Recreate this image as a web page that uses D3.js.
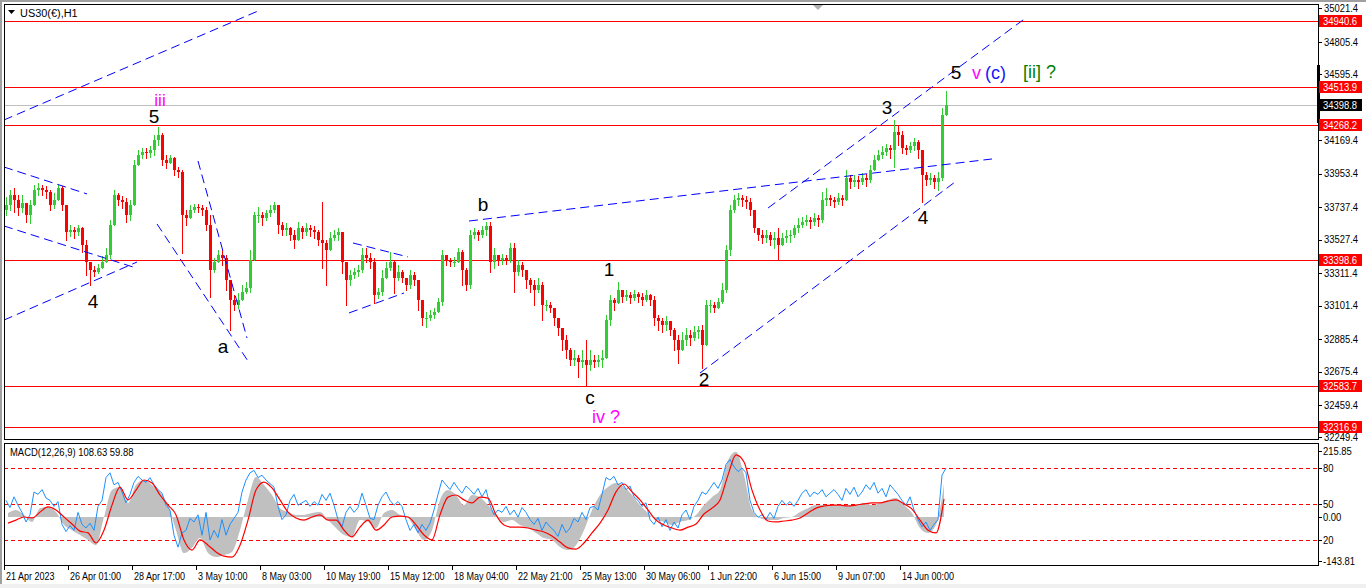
<!DOCTYPE html>
<html>
<head>
<meta charset="utf-8">
<script src="https://cdn.jsdelivr.net/npm/d3@7"></script>
<style>
  html, body { margin: 0; padding: 0; background: #fff; overflow: hidden; }
  svg { display: block; font-family: "Liberation Sans", Arial, sans-serif; }
</style>
</head>
<body>
<svg id="chart" width="1366" height="588"></svg>
<script>
// US30(€) H1, grouped into 4-hour bars (open = previous close)
const firstOpen = 33720;

const closes = [
  33752,33816,33784,33733,33765,33687,33752,33849,33862,33849,
  33836,33752,33784,33862,33752,33577,33590,33577,33603,33493,
  33383,33332,33319,33344,33383,33428,33622,33816,33784,33771,
  33687,33752,34010,34075,34094,34088,34107,34172,34204,34042,
  34023,34055,33978,33965,33687,33668,33719,33739,33733,33719,
  33622,33332,33383,33428,33409,33267,33138,33105,33138,33189,
  33215,33396,33687,33687,33668,33700,33719,33752,33622,33590,
  33603,33558,33525,33603,33577,33603,33590,33577,33525,33506,
  33461,33538,33558,33577,33383,33267,33299,33319,33332,33428,
  33409,33383,33170,33189,33280,33344,33383,33280,33319,33280,
  33235,33299,33267,33138,33021,33021,33041,33060,33125,33428,
  33396,33383,33383,33448,33332,33235,33558,33577,33558,33590,
  33616,33383,33428,33396,33409,33396,33474,33319,33364,33332,
  33267,33235,33202,33235,33105,33105,33086,33021,32957,32879,
  32815,32750,32763,32737,32750,32718,32750,32737,32750,32763,
  33009,33138,33118,33202,33157,33170,33151,33176,33157,33138,
  33170,33138,33021,33002,32976,33002,32944,32879,32815,32879,
  32912,32892,32931,32944,32847,33105,33105,33086,33125,33202,
  33461,33719,33784,33797,33784,33771,33719,33603,33558,33538,
  33558,33525,33538,33493,33538,33551,33558,33603,33622,33642,
  33655,33642,33668,33655,33784,33797,33784,33771,33797,33784,
  33926,33900,33913,33900,33926,33913,33978,34042,34075,34094,
  34120,34107,34223,34204,34120,34107,34133,34159,34107,33946,
  33913,33926,33900,33926,34333,34399
];

const highs = [
  33803,33849,33862,33816,33816,33765,33784,33881,33894,33881,
  33874,33849,33829,33881,33874,33752,33622,33609,33622,33609,
  33525,33383,33357,33370,33422,33474,33655,33849,33829,33810,
  33797,33784,34042,34107,34120,34120,34133,34204,34256,34217,
  34075,34075,34062,33997,33978,33719,33752,33758,33758,33752,
  33739,33687,33409,33461,33461,33428,33235,33170,33183,33235,
  33254,33461,33706,33739,33706,33719,33752,33771,33752,33642,
  33636,33609,33590,33642,33616,33636,33622,33616,33590,33771,
  33525,33577,33590,33603,33571,33364,33332,33344,33364,33474,
  33474,33441,33409,33215,33332,33383,33448,33396,33364,33332,
  33280,33332,33319,33267,33105,33060,33073,33086,33151,33461,
  33428,33409,33415,33474,33461,33344,33590,33603,33590,33616,
  33642,33642,33474,33428,33435,33428,33506,33506,33396,33383,
  33332,33280,33267,33280,33254,33138,33125,33073,33021,32957,
  32912,32828,32815,32782,32815,32879,32815,32782,32782,32815,
  33041,33170,33151,33254,33202,33202,33189,33202,33189,33183,
  33202,33176,33163,33041,33021,33034,33002,32957,32912,32931,
  32957,32944,32970,32970,32976,33138,33138,33125,33151,33248,
  33493,33752,33816,33829,33816,33810,33797,33719,33603,33590,
  33590,33577,33577,33603,33571,33590,33590,33622,33668,33674,
  33687,33674,33700,33687,33836,33862,33816,33803,33829,33816,
  33978,33946,33946,33939,33958,33952,34010,34075,34107,34133,
  34146,34139,34301,34269,34230,34139,34159,34185,34172,34075,
  33965,33958,33946,33965,34378,34490
];

const lows = [
  33687,33719,33706,33687,33706,33642,33636,33752,33816,33816,
  33797,33719,33733,33784,33719,33525,33551,33538,33558,33448,
  33299,33235,33293,33312,33344,33383,33409,33622,33752,33733,
  33642,33655,33752,34010,34055,34055,34062,34075,34139,34010,
  33991,34023,33946,33933,33441,33622,33681,33706,33706,33687,
  33590,33157,33319,33383,33364,33202,32944,33073,33086,33151,
  33183,33189,33493,33642,33622,33655,33681,33706,33571,33558,
  33558,33525,33474,33525,33538,33558,33551,33538,33493,33344,
  33235,33474,33525,33525,33312,33105,33235,33280,33293,33319,
  33383,33344,33118,33151,33170,33299,33332,33183,33267,33254,
  33202,33215,33235,33073,32976,32963,33009,33021,33060,33105,
  33364,33357,33357,33383,33235,33202,33215,33538,33525,33545,
  33558,33319,33344,33364,33370,33370,33383,33189,33299,33293,
  33215,33189,33105,33189,33009,33073,33060,32976,32912,32815,
  32763,32718,32718,32640,32705,32589,32685,32705,32711,32705,
  32782,32976,33073,33138,33125,33138,33118,33138,33125,33105,
  33131,33105,32976,32944,32931,32944,32912,32815,32731,32828,
  32847,32847,32879,32892,32698,32879,33060,33060,33086,33118,
  33189,33428,33706,33752,33745,33733,33687,33577,33525,33506,
  33513,33493,33474,33396,33493,33513,33513,33545,33577,33609,
  33622,33603,33622,33616,33642,33752,33752,33739,33758,33752,
  33784,33862,33874,33862,33888,33874,33900,33991,34042,34055,
  34075,34055,33997,34139,34088,34081,34094,34107,34055,33771,
  33881,33888,33862,33849,33913,34366
];

// MACD(12,26,9), one value per two bars
const macdMain = [
  13,23,7,-16,29,33,16,-26,-43,-59,
  -75,-92,0,88,98,46,105,121,105,82,
  39,-43,-118,-101,-69,-118,-131,-124,-114,-43,
  56,131,105,72,29,16,7,7,13,16,
  -10,-36,-59,-65,-10,-16,-36,13,23,7,
  -3,-43,-75,-43,56,88,72,39,72,65,
  39,7,-16,-10,-26,-36,-52,-69,-75,-98,
  -108,-92,-43,23,72,98,111,98,72,39,
  13,-10,-16,-26,-16,-10,7,39,65,88,
  186,213,137,23,-3,-10,-10,-3,0,16,
  29,39,39,39,36,39,39,46,39,46,
  56,62,39,13,-36,-52,-26,108
];

const macdSignal = [
  -20,-10,0,-3,16,33,23,0,-23,-46,
  -52,-85,-43,39,98,56,88,121,111,72,
  39,7,-75,-108,-75,-92,-114,-128,-131,-92,
  -10,88,114,95,56,16,-3,-10,0,7,
  -10,-10,-43,-65,-33,-10,-43,-26,0,3,
  0,-26,-59,-75,7,65,72,56,46,65,
  62,7,-26,-33,-33,-36,-43,-49,-62,-82,
  -101,-105,-85,-52,-20,23,82,108,82,56,
  23,-10,-26,-36,-43,-33,-23,10,29,56,
  137,203,180,88,23,-13,-16,-13,-10,-3,
  13,29,36,39,39,36,39,43,46,46,
  52,56,43,26,-10,-43,-52,59
];

// oscillator drawn on the 0..100 levels, one value per bar
const oscLine = [
  53,47,56,49,43,35,41,60,58,62,
  55,53,48,52,33,27,32,28,43,33,
  30,34,28,48,53,72,76,66,68,60,
  51,58,68,73,70,68,72,66,62,59,
  49,45,24,14,26,28,38,35,41,24,
  43,20,28,22,37,24,33,38,43,60,
  70,76,78,72,74,70,67,64,48,37,
  41,53,58,49,51,53,48,52,49,58,
  53,59,49,37,31,43,48,43,47,59,
  49,38,37,49,56,60,53,49,52,48,
  37,28,33,26,33,28,34,45,58,70,
  66,62,68,63,59,65,62,58,63,56,
  62,49,41,45,43,48,41,45,39,47,
  43,37,33,38,28,35,31,28,23,33,
  26,30,38,35,43,37,47,48,45,58,
  72,70,73,66,68,62,65,56,53,48,
  51,37,33,39,31,37,28,35,30,41,
  45,37,48,53,60,58,63,68,63,70,
  83,87,81,77,80,76,53,43,39,41,
  37,43,38,48,53,49,52,48,53,59,
  62,56,60,58,62,56,59,62,58,53,
  63,58,64,56,60,66,62,68,59,63,
  56,66,62,58,53,49,56,45,37,31,
  35,28,33,37,74,80
];

const priceTicks = [35021.4, 34805.4, 34595.4, 34169.4, 33953.4, 33737.4, 33527.4,
  33311.4, 33101.4, 32885.4, 32675.4, 32459.4, 32249.4];
const levelLines = [34940.6, 34513.9, 34268.2, 33398.6, 32583.7, 32316.9];
const currentPrice = 34398.8;

const macdTicks = [215.85, 0, -143.81];
const oscLevels = [80, 50, 20];

const timeLabels = ['21 Apr 2023', '26 Apr 01:00', '28 Apr 17:00', '3 May 10:00', '8 May 03:00',
  '10 May 19:00', '15 May 12:00', '18 May 04:00', '22 May 21:00', '25 May 13:00',
  '30 May 06:00', '1 Jun 22:00', '6 Jun 15:00', '9 Jun 07:00', '14 Jun 00:00'];
const barsPerLabel = 16;

// [bar, price, bar, price]
const trendLines = [
  [0, 34301, 63.5, 35005],
  [0, 33997, 20.75, 33823],
  [0, 33616, 32.25, 33351],
  [0, 33008, 33.25, 33383],
  [38.25, 33629, 61, 32743],
  [48.5, 34036, 60.75, 32892],
  [87.25, 33506, 101, 33416],
  [86.25, 33054, 100, 33183],
  [116.25, 33648, 247, 34049],
  [191, 33732, 255.75, 34966],
  [174, 32666, 237.75, 33900]
];

// [text, bar, price, kind]
const waveLabels = [
  ['iii', 39, 34392, 'minor'],
  ['5', 37.5, 34280, 'wave'],
  ['4', 22.25, 33086, 'wave'],
  ['a', 54.75, 32795, 'wave'],
  ['b', 119.75, 33713, 'wave'],
  ['1', 151.25, 33293, 'wave'],
  ['c', 146.5, 32466, 'wave'],
  ['iv ?', 147, 32343, 'minorStart'],
  ['2', 175, 32582, 'wave'],
  ['3', 220.75, 34340, 'wave'],
  ['4', 229.75, 33629, 'wave'],
  ['5', 238, 34566, 'wave'],
  ['v', 242, 34566, 'minorStart'],
  ['(c)', 245.25, 34566, 'blueStart'],
  ['[ii] ?', 254.75, 34572, 'greenStart']
];

const layout = { left: 4, right: 1318, mainTop: 4, mainBottom: 439, macdTop: 443, macdBottom: 565 };

const labelStyles = {
  wave: { fill: '#000', size: 19, anchor: 'middle' },
  minor: { fill: '#ff00ff', size: 17, anchor: 'middle' },
  minorStart: { fill: '#ff00ff', size: 18, anchor: 'start' },
  blueStart: { fill: '#1414ff', size: 18, anchor: 'start' },
  greenStart: { fill: '#008000', size: 18, anchor: 'start' }
};

const svg = d3.select('#chart');

const x = d3.scaleLinear().domain([0, 328.5]).range([layout.left, layout.right]);
const y = d3.scaleLinear().domain([32316.9, 34940.6]).range([427, 21]);
const yMacd = d3.scaleLinear().domain([-143.81, 215.85]).range([561, 451]);
const yOsc = d3.scaleLinear().domain([0, 100]).range([564, 444]);

// narrow, Tahoma-like axis text
function axisText(sel, px, py) {
  return sel.attr('transform', d => `translate(${px(d)},${py(d)}) scale(0.9,1)`)
    .attr('font-size', 10.5).attr('fill', '#000');
}

function drawFrame() {
  svg.append('rect').attr('x', 0).attr('y', 0).attr('width', 1366).attr('height', 588).attr('fill', '#fff');
  svg.append('rect').attr('x', 0).attr('y', 0).attr('width', 1366).attr('height', 2).attr('fill', '#a0a0a0');
  svg.append('rect').attr('x', 0).attr('y', 0).attr('width', 2).attr('height', 588).attr('fill', '#a0a0a0');
  svg.append('rect').attr('x', 0).attr('y', 584).attr('width', 1366).attr('height', 4).attr('fill', '#f0f0f0');

  const defs = svg.append('defs');
  defs.append('clipPath').attr('id', 'clipMain').append('rect')
    .attr('x', layout.left).attr('y', layout.mainTop)
    .attr('width', layout.right - layout.left).attr('height', layout.mainBottom - layout.mainTop);
  defs.append('clipPath').attr('id', 'clipMacd').append('rect')
    .attr('x', layout.left).attr('y', layout.macdTop)
    .attr('width', layout.right - layout.left).attr('height', layout.macdBottom - layout.macdTop);
}

function drawMain() {
  const g = svg.append('g').attr('clip-path', 'url(#clipMain)');

  // horizontal levels
  g.selectAll('line.level').data(levelLines).join('line')
    .attr('x1', layout.left).attr('x2', layout.right)
    .attr('y1', d => Math.round(y(d)) + 0.5).attr('y2', d => Math.round(y(d)) + 0.5)
    .attr('stroke', '#ff0000').attr('stroke-width', 1);

  g.append('line')
    .attr('x1', layout.left).attr('x2', layout.right)
    .attr('y1', Math.round(y(currentPrice)) + 0.5).attr('y2', Math.round(y(currentPrice)) + 0.5)
    .attr('stroke', '#c0c0c0').attr('stroke-width', 1);

  // bars
  const bars = closes.map((c, i) => ({
    i, open: i ? closes[i - 1] : firstOpen, close: c, high: highs[i], low: lows[i]
  }));
  const colour = d => d.close >= d.open ? '#32cd32' : '#ff0000';

  const gb = g.append('g').attr('shape-rendering', 'crispEdges');
  gb.selectAll('line').data(bars).join('line')
    .attr('x1', d => x(d.i + 0.5) + 0.5).attr('x2', d => x(d.i + 0.5) + 0.5)
    .attr('y1', d => y(Math.max(d.high, d.open, d.close)))
    .attr('y2', d => y(Math.min(d.low, d.open, d.close)) + 1)
    .attr('stroke', colour).attr('stroke-width', 1);
  gb.selectAll('rect').data(bars).join('rect')
    .attr('x', d => x(d.i) + 1)
    .attr('width', 3)
    .attr('y', d => y(Math.max(d.open, d.close)))
    .attr('height', d => Math.max(1, Math.abs(y(d.open) - y(d.close))))
    .attr('fill', colour);

  // trend lines
  g.selectAll('line.trend').data(trendLines).join('line')
    .attr('x1', d => x(d[0])).attr('y1', d => y(d[1]))
    .attr('x2', d => x(d[2])).attr('y2', d => y(d[3]))
    .attr('stroke', '#0000ff').attr('stroke-width', 1)
    .attr('stroke-dasharray', '9,5');

  // wave labels
  g.selectAll('text.wave').data(waveLabels).join('text')
    .attr('x', d => x(d[1])).attr('y', d => y(d[2]))
    .attr('text-anchor', d => labelStyles[d[3]].anchor)
    .attr('font-size', d => labelStyles[d[3]].size)
    .attr('fill', d => labelStyles[d[3]].fill)
    .text(d => d[0]);

  // shift marker
  svg.append('path').attr('d', 'M812,4 L824,4 L818,10 Z').attr('fill', '#b0b0b0');

  svg.append('rect')
    .attr('x', layout.left + 0.5).attr('y', layout.mainTop + 0.5)
    .attr('width', layout.right - layout.left).attr('height', layout.mainBottom - layout.mainTop)
    .attr('fill', 'none').attr('stroke', '#000');

  svg.append('line').attr('x1', layout.right + 0.5).attr('x2', layout.right + 0.5)
    .attr('y1', 65).attr('y2', 123).attr('stroke', '#000').attr('stroke-width', 3);

  svg.append('path').attr('d', 'M8,10 L15,10 L11.5,14 Z').attr('fill', '#000');
  svg.append('text').attr('transform', 'translate(20,17) scale(0.95,1)')
    .attr('font-size', 11.5).attr('fill', '#000')
    .text('US30(€),H1');

  // price axis
  const ax = svg.append('g');
  ax.selectAll('line').data(priceTicks).join('line')
    .attr('x1', layout.right).attr('x2', layout.right + 4)
    .attr('y1', d => Math.round(y(d)) + 0.5).attr('y2', d => Math.round(y(d)) + 0.5)
    .attr('stroke', '#000');
  axisText(ax.selectAll('text').data(priceTicks).join('text'), () => 1324, d => y(d))
    .attr('dy', '0.35em')
    .text(d => d.toFixed(1));

  const boxes = svg.append('g');
  const tags = levelLines.map(v => ({ v, bg: '#ff0000' })).concat([{ v: currentPrice, bg: '#000' }]);
  boxes.selectAll('rect').data(tags).join('rect')
    .attr('x', 1319).attr('y', d => Math.round(y(d.v)) - 6)
    .attr('width', 43).attr('height', 12).attr('fill', d => d.bg);
  axisText(boxes.selectAll('text').data(tags).join('text'), () => 1323, d => Math.round(y(d.v)))
    .attr('dy', '0.35em').attr('fill', '#fff')
    .text(d => d.v.toFixed(1));
}

function drawMacd() {
  const g = svg.append('g').attr('clip-path', 'url(#clipMacd)');

  g.selectAll('line.lvl').data(oscLevels).join('line')
    .attr('x1', layout.left).attr('x2', layout.right)
    .attr('y1', d => Math.round(yOsc(d)) + 0.5).attr('y2', d => Math.round(yOsc(d)) + 0.5)
    .attr('stroke', '#ff0000').attr('stroke-dasharray', '4,3');

  const area = d3.area()
    .x((d, j) => x(2 * j + 1))
    .y0(yMacd(0))
    .y1(d => yMacd(d))
    .curve(d3.curveMonotoneX);
  g.append('path').datum(macdMain).attr('d', area).attr('fill', '#c0c0c0');

  const osc = d3.line().x((d, i) => x(i + 0.5)).y(d => yOsc(d));
  g.append('path').datum(oscLine).attr('d', osc)
    .attr('fill', 'none').attr('stroke', '#1e90ff').attr('stroke-width', 1);

  const sig = d3.line().x((d, j) => x(2 * j + 1)).y(d => yMacd(d)).curve(d3.curveMonotoneX);
  g.append('path').datum(macdSignal).attr('d', sig)
    .attr('fill', 'none').attr('stroke', '#ff0000').attr('stroke-width', 1.2);

  svg.append('text').attr('transform', 'translate(10,456) scale(0.86,1)')
    .attr('font-size', 11).attr('fill', '#000')
    .text('MACD(12,26,9) 108.63 59.88');

  svg.append('rect')
    .attr('x', layout.left + 0.5).attr('y', layout.macdTop + 0.5)
    .attr('width', layout.right - layout.left).attr('height', layout.macdBottom - layout.macdTop)
    .attr('fill', 'none').attr('stroke', '#000');

  const ticks = macdTicks.map(v => ({ y: yMacd(v), label: v.toFixed(2) }))
    .concat(oscLevels.map(v => ({ y: yOsc(v), label: String(v) })));
  const ax = svg.append('g');
  ax.selectAll('line').data(ticks).join('line')
    .attr('x1', layout.right).attr('x2', layout.right + 4)
    .attr('y1', d => Math.round(d.y) + 0.5).attr('y2', d => Math.round(d.y) + 0.5)
    .attr('stroke', '#000');
  axisText(ax.selectAll('text').data(ticks).join('text'), () => 1323, d => d.y)
    .attr('dy', '0.35em')
    .text(d => d.label);
}

function drawTimeAxis() {
  const g = svg.append('g');
  const t = timeLabels.map((label, k) => ({ label, pos: x(k * barsPerLabel) }));
  g.selectAll('line').data(t).join('line')
    .attr('x1', d => Math.round(d.pos) + 0.5).attr('x2', d => Math.round(d.pos) + 0.5)
    .attr('y1', layout.macdBottom).attr('y2', layout.macdBottom + 5)
    .attr('stroke', '#000');
  g.selectAll('text').data(t).join('text')
    .attr('transform', d => `translate(${d.pos + 2},580) scale(0.82,1)`)
    .attr('font-size', 11).attr('fill', '#000')
    .text(d => d.label);
}

drawFrame();
drawMain();
drawMacd();
drawTimeAxis();
</script>
</body>
</html>
